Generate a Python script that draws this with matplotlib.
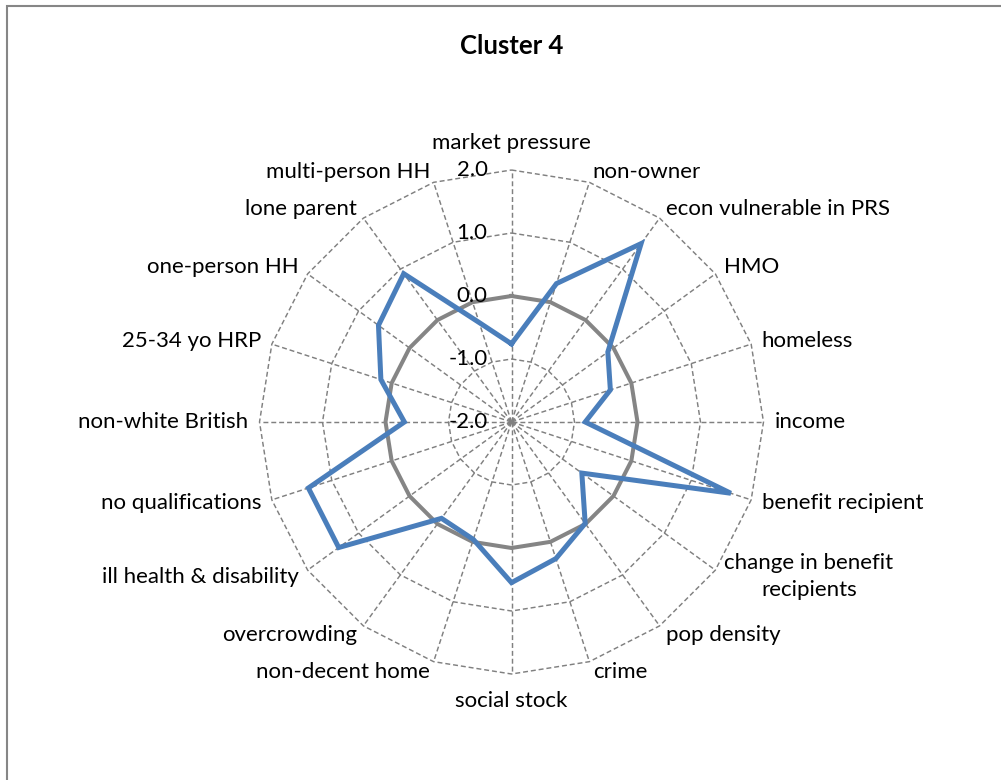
import numpy as np
import matplotlib.pyplot as plt

plt.rcParams['font.family'] = ['Lato', 'DejaVu Sans']

# categories, clockwise from the top
categories = ['market pressure', 'non-owner', 'econ vulnerable in PRS', 'HMO', 'homeless',
              'income', 'benefit recipient', 'change in benefit\nrecipients', 'pop density',
              'crime', 'social stock', 'non-decent home', 'overcrowding',
              'ill health & disability', 'no qualifications', 'non-white British',
              '25-34 yo HRP', 'one-person HH', 'lone parent', 'multi-person HH']

cluster4 = [-0.76, 0.31, 1.50, -0.11, -0.35, -0.83, 1.66, -0.62, -0.01, 0.28,
            0.55, -0.04, -0.11, 1.39, 1.39, -0.30, 0.18, 0.61, 0.91, -0.34]
baseline = [0.0] * 20

ticks = [-2.0, -1.0, 0.0, 1.0, 2.0]
tick_labels = ['-2.0', '-1.0', '0.0', '1.0', '2.0']

# geometry of the radar, in pixels of the figure
cx, cy = 511.5, 422.0
k = 63.0
vmin = ticks[0]

n = len(categories)
theta = np.arange(n) * 2 * np.pi / n


def to_xy(vals):
    r = (np.asarray(vals) - vmin) * k
    x = cx + r * np.sin(theta)
    y = cy - r * np.cos(theta)
    return np.append(x, x[0]), np.append(y, y[0])


fig = plt.figure(figsize=(10.01, 7.80), dpi=100)
ax = fig.add_axes([0, 0, 1, 1])
ax.set_xlim(0, 1001)
ax.set_ylim(780, 0)
ax.axis('off')

grid_col = '#808080'
dash = (0, (3.4, 2.0))

# polygon gridlines
for t in ticks[1:]:
    gx, gy = to_xy([t] * n)
    ax.plot(gx, gy, color=grid_col, lw=1.05, ls=dash, zorder=1)

# spokes
ox, oy = to_xy([ticks[-1]] * n)
for i in range(n):
    ax.plot([cx, ox[i]], [cy, oy[i]], color=grid_col, lw=1.05, ls=dash, zorder=1)

# series
bx, by = to_xy(baseline)
ax.plot(bx, by, color='#858585', lw=2.9, zorder=2, solid_joinstyle='miter')
sx, sy = to_xy(cluster4)
ax.plot(sx, sy, color='#4A7EBB', lw=3.6, zorder=3, solid_joinstyle='miter')

# value axis labels along the top spoke
for t, lab in zip(ticks, tick_labels):
    ax.text(cx - 24, cy - (t - vmin) * k, lab, ha='right', va='center',
            fontsize=16, color='black', zorder=4)

# category labels
off = 11
for i, lab in enumerate(categories):
    s, c = np.sin(theta[i]), np.cos(theta[i])
    x0, y0 = ox[i], oy[i]
    if abs(s) < 0.05:
        ax.text(x0, y0 - 27 * np.sign(c), lab, ha='center', va='center', fontsize=16)
    else:
        ax.text(x0 + off * s, y0 - off * c, lab, ha='left' if s > 0 else 'right',
                va='center', multialignment='center', fontsize=16, linespacing=1.45)

ax.text(512, 46, 'Cluster 4', ha='center', va='center', fontsize=18.5, fontweight='bold')

# chart frame
ax.plot([7, 7, 1001], [780, 6, 6], color='#868686', lw=1.5, solid_joinstyle='miter')

fig.savefig('out.png', dpi=100)
